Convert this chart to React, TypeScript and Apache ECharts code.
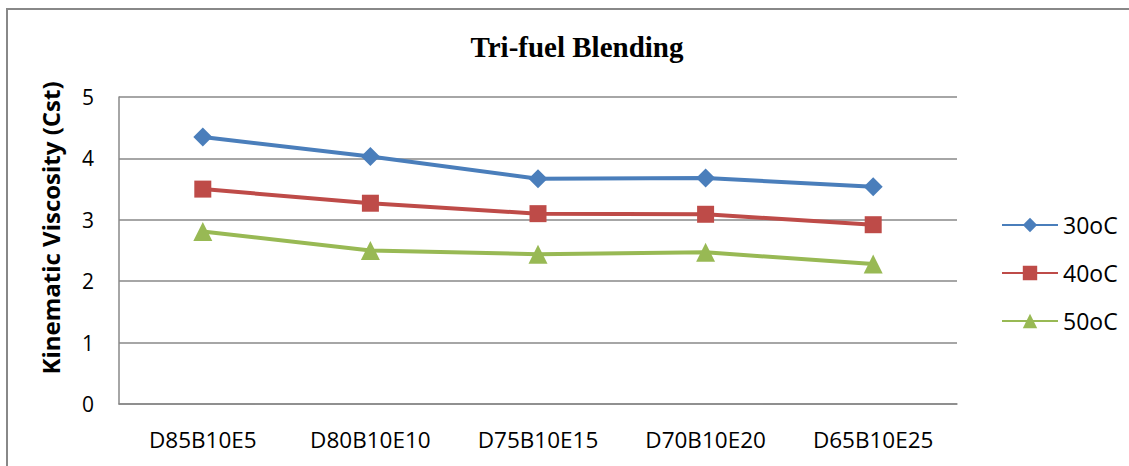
import React, { useEffect, useRef } from "react";
import * as echarts from "echarts";

const categories = ["D85B10E5", "D80B10E10", "D75B10E15", "D70B10E20", "D65B10E25"];
const seriesNames = ["30oC", "40oC", "50oC"];
const values30 = [4.35, 4.03, 3.67, 3.68, 3.54];
const values40 = [3.5, 3.27, 3.1, 3.09, 2.92];
const values50 = [2.81, 2.5, 2.44, 2.47, 2.28];
const yTicks = [0, 1, 2, 3, 4, 5];
const yAxisTitle = "Kinematic Viscosity (Cst)";

const colors = ["#4A7EBB", "#BE4B48", "#98B954"];
const symbols = ["diamond", "rect", "triangle"];
const symbolSizes = [19, 17, 19];

export default function App() {
  const ref = useRef<HTMLDivElement>(null);
  useEffect(() => {
    if (!ref.current) return;
    document.documentElement.style.overflow = "hidden";
    document.body.style.overflow = "hidden";
    document.body.style.margin = "0";
    const chart = echarts.init(ref.current, undefined, { renderer: "svg" });
    const data = [values30, values40, values50];
    const font = "'Open Sans', 'Noto Sans', sans-serif";
    chart.setOption({
      animation: false,
      backgroundColor: "#ffffff",
      title: {
        text: "Tri-fuel Blending",
        left: 572,
        top: 27,
        textAlign: "center",
        textStyle: {
          fontFamily: "'Liberation Serif', 'Times New Roman', serif",
          fontWeight: "bold",
          fontSize: 29,
          color: "#000",
        },
      },
      graphic: [
        {
          type: "polyline",
          shape: { points: [[7, 470], [7, 9], [1135, 9]] },
          style: { fill: "none", stroke: "#888888", lineWidth: 2 },
          silent: true,
        },
        {
          type: "text",
          x: 50,
          y: 228,
          rotation: Math.PI / 2,
          silent: true,
          style: {
            text: yAxisTitle,
            fontFamily: font,
            fontSize: 24,
            fontWeight: "bold",
            fill: "#000",
            align: "center",
            verticalAlign: "middle",
          },
        },
      ],
      legend: {
        orient: "vertical",
        left: 996,
        top: 208,
        itemWidth: 56,
        itemHeight: 18,
        itemGap: 24,
        data: seriesNames,
        textStyle: { fontFamily: font, fontSize: 23, lineHeight: 24, color: "#000" },
      },
      grid: { left: 119, right: 172, top: 97, bottom: 62 },
      xAxis: {
        type: "category",
        data: categories,
        boundaryGap: true,
        axisLine: { lineStyle: { color: "#888888", width: 1.5 } },
        axisTick: { show: false },
        axisLabel: { fontFamily: font, fontSize: 22.5, color: "#000", margin: 24 },
        splitLine: { show: false },
      },
      yAxis: {
        type: "value",
        min: yTicks[0],
        max: yTicks[yTicks.length - 1],
        interval: 1,
        axisLine: { show: true, lineStyle: { color: "#888888", width: 1.5 } },
        axisTick: { show: false },
        axisLabel: { fontFamily: font, fontSize: 21, color: "#000", margin: 25 },
        splitLine: { lineStyle: { color: "#888888", width: 1.5 } },
      },
      series: seriesNames.map((name, i) => ({
        name,
        type: "line",
        data: data[i],
        symbol: symbols[i],
        symbolSize: symbolSizes[i],
        showAllSymbol: true,
        itemStyle: { color: colors[i] },
        lineStyle: { color: colors[i], width: 4 },
      })),
    });
    return () => chart.dispose();
  }, []);
  return (
    <div
      ref={ref}
      style={{ position: "absolute", left: 0, top: 0, width: 1129, height: 466, overflow: "hidden" }}
    />
  );
}
